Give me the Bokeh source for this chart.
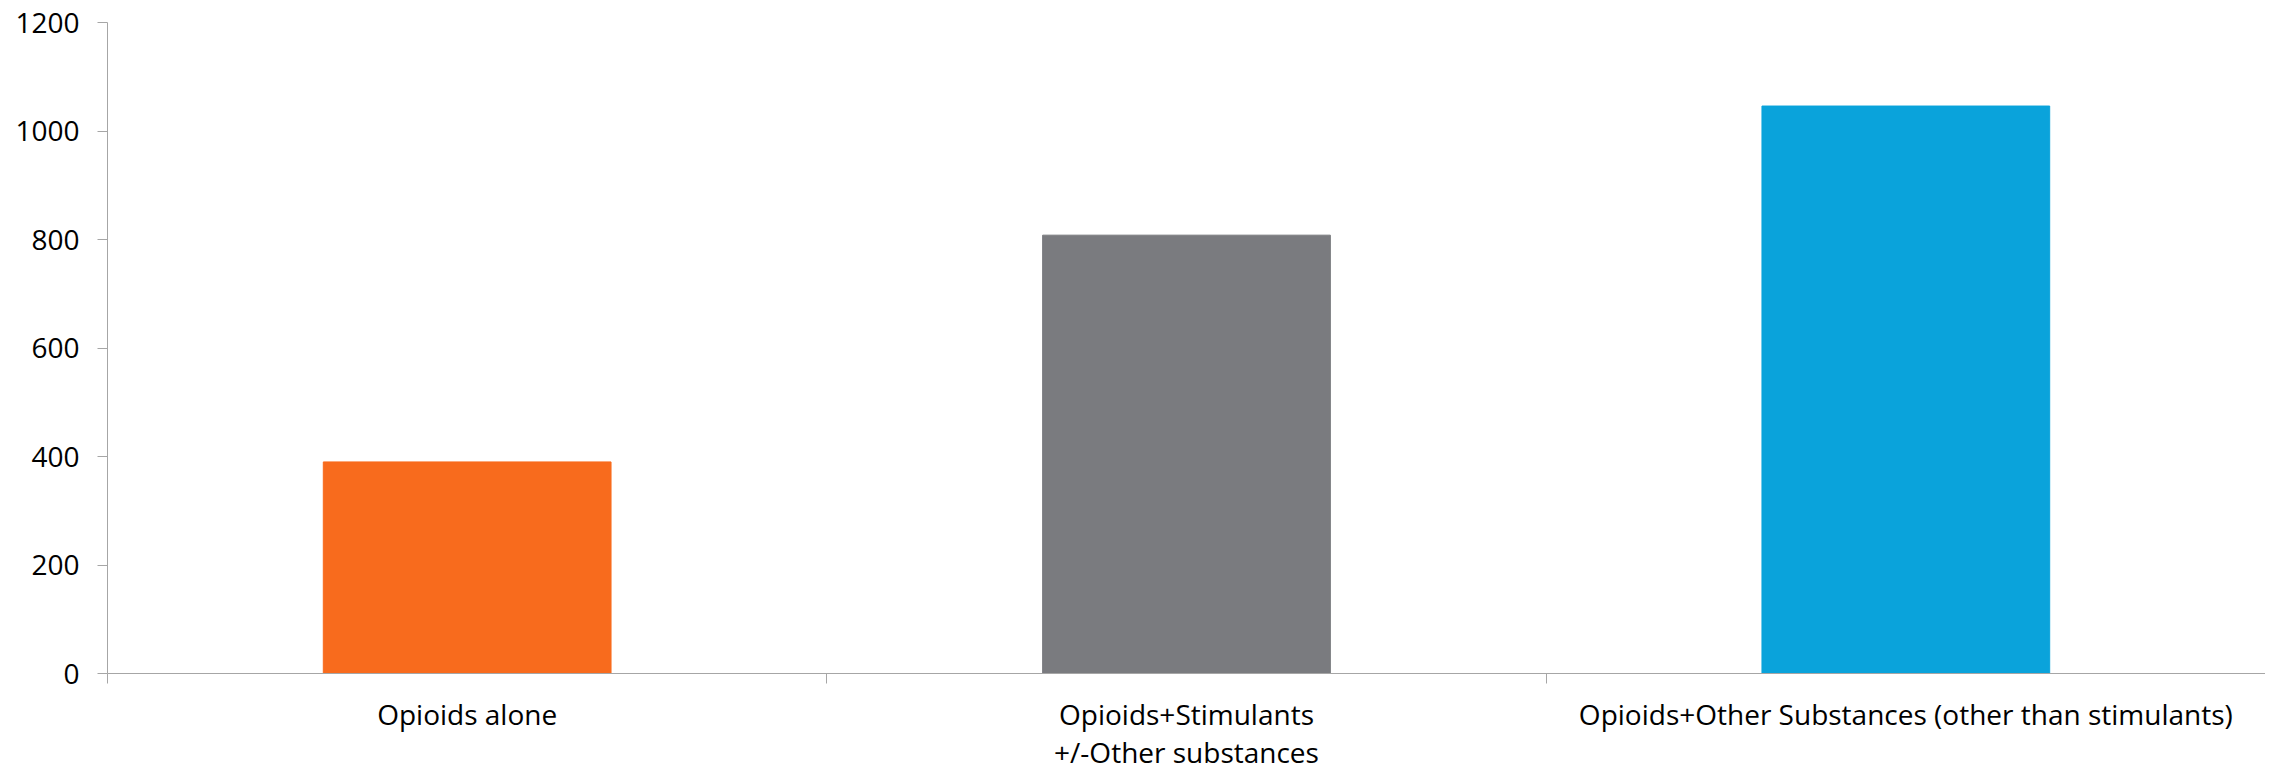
from bokeh.plotting import figure
from bokeh.models import Range1d, FixedTicker, ColumnDataSource
from bokeh.embed import file_html
from bokeh.resources import INLINE
import numpy as np

categories = ["Opioids alone", "Opioids+Stimulants\n+/-Other substances",
              "Opioids+Other Substances (other than stimulants)"]
values = [390, 808, 1046]
colors = ["#F86B1D", "#7A7B7F", "#0AA3DB"]
y_ticks = [0, 200, 400, 600, 800, 1000, 1200]

n = len(categories)
centers = list(np.arange(n) + 0.5)

src = ColumnDataSource(dict(x=centers, top=values, color=colors))

p = figure(width=2265, height=773, output_backend="svg", toolbar_location=None,
           x_range=Range1d(0, n), y_range=Range1d(0, 1200),
           min_border_left=107, min_border_right=0, min_border_top=22, min_border_bottom=95)

p.vbar(x="x", top="top", width=0.4, color="color", source=src)

p.grid.visible = False
p.outline_line_color = None

axis_color = "#A6A6A6"
font = "Open Sans"

# y axis
p.yaxis.ticker = FixedTicker(ticks=y_ticks, minor_ticks=[])
p.yaxis.axis_line_color = axis_color
p.yaxis.major_tick_line_color = axis_color
p.yaxis.major_tick_out = 10
p.yaxis.major_tick_in = 0
p.yaxis.major_label_text_font = font
p.yaxis.major_label_text_font_size = "28px"
p.yaxis.major_label_text_color = "#000000"
p.yaxis.major_label_standoff = 18

# x axis: labels at centers, tick marks at boundaries
p.xaxis.ticker = FixedTicker(ticks=centers, minor_ticks=list(range(n + 1)))
p.xaxis.major_label_overrides = {c: lab for c, lab in zip(centers, categories)}
p.xaxis.axis_line_color = axis_color
p.xaxis.major_tick_line_color = None
p.xaxis.major_tick_out = 0
p.xaxis.major_tick_in = 0
p.xaxis.minor_tick_line_color = axis_color
p.xaxis.minor_tick_out = 10
p.xaxis.minor_tick_in = 0
p.xaxis.major_label_text_font = font
p.xaxis.major_label_text_font_size = "28px"
p.xaxis.major_label_text_color = "#000000"
p.xaxis.major_label_text_line_height = 1.0
p.xaxis.major_label_standoff = 11

open("out.html", "w").write(file_html(p, INLINE))
